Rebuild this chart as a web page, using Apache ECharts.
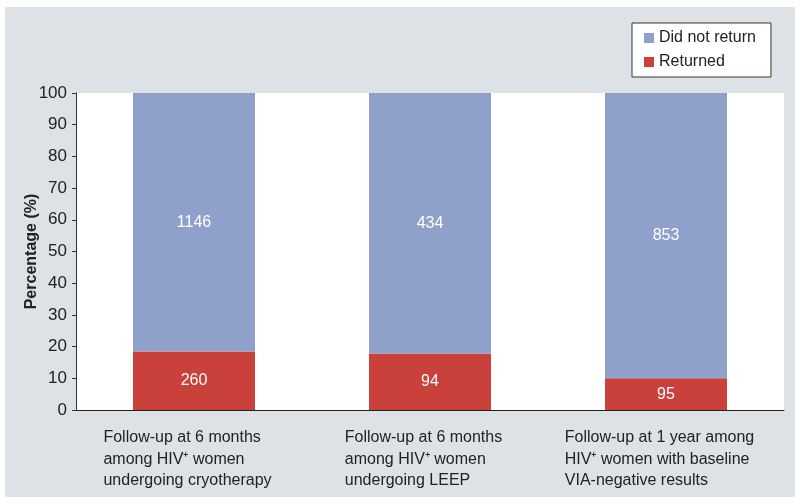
<!DOCTYPE html>
<html>
<head>
<meta charset="utf-8">
<script src="https://cdn.jsdelivr.net/npm/echarts@6/dist/echarts.min.js"></script>
<style>
  html, body { margin: 0; padding: 0; background: #ffffff; }
  #chart { position: absolute; left: 5px; top: 7px; width: 790px; height: 490px; }
</style>
</head>
<body>
<div id="chart"></div>
<script>
// Data
var categories = [
  ['Follow-up at 6 months', 'among HIV\u207A women', 'undergoing cryotherapy'],
  ['Follow-up at 6 months', 'among HIV\u207A women', 'undergoing LEEP'],
  ['Follow-up at 1 year among', 'HIV\u207A women with baseline', 'VIA-negative results']
];
var returnedCounts = [260, 94, 95];
var notReturnedCounts = [1146, 434, 853];
var yTicks = [0, 10, 20, 30, 40, 50, 60, 70, 80, 90, 100];

var catNames = categories.map(function (c) { return c.join('\n'); });
var returnedPct = returnedCounts.map(function (v, i) { return v / (v + notReturnedCounts[i]) * 100; });
var notReturnedPct = notReturnedCounts.map(function (v, i) { return v / (v + returnedCounts[i]) * 100; });

var FONT = "'Liberation Sans', Arial, Helvetica, sans-serif";
var chart = echarts.init(document.getElementById('chart'), null, { renderer: 'canvas' });

chart.setOption({
  backgroundColor: '#dde2e6',
  textStyle: { fontFamily: FONT },
  animation: false,
  legend: {
    data: ['Did not return', 'Returned'],
    orient: 'vertical',
    left: 627,
    top: 16,
    backgroundColor: '#ffffff',
    borderColor: '#333333',
    borderWidth: 1,
    padding: [7, 15, 7, 12],
    itemWidth: 10,
    itemHeight: 10,
    itemGap: 8,
    icon: 'rect',
    textStyle: { fontSize: 16, color: '#222222', fontFamily: FONT }
  },
  grid: {
    left: 71, top: 86, width: 708, height: 317,
    show: true, backgroundColor: '#ffffff', borderWidth: 0
  },
  xAxis: {
    type: 'category',
    data: catNames,
    axisLine: { show: true, lineStyle: { color: '#222222', width: 1 } },
    axisTick: { show: false },
    axisLabel: {
      interval: 0,
      margin: 17,
      align: 'center',
      padding: [0, 13, 0, 0],
      formatter: function (val) {
        return val.split('\n').map(function (s) { return '{l|' + s + '}'; }).join('\n');
      },
      rich: {
        l: { align: 'left', fontSize: 16, lineHeight: 21.5, color: '#222222', fontFamily: FONT }
      }
    }
  },
  yAxis: {
    type: 'value',
    min: 0, max: 100, interval: 10,
    name: 'Percentage (%)',
    nameLocation: 'middle',
    nameGap: 36,
    nameMoveOverlap: false,
    nameTextStyle: { fontSize: 16, fontWeight: 'bold', color: '#222222', fontFamily: FONT },
    axisLine: { show: true, lineStyle: { color: '#333333', width: 1 } },
    axisTick: { show: true, length: 4, lineStyle: { color: '#333333' } },
    axisLabel: {
      margin: 9, fontSize: 17, color: '#222222', fontFamily: FONT,
      customValues: yTicks
    },
    splitLine: { show: false }
  },
  series: [
    {
      name: 'Returned',
      type: 'bar',
      stack: 'total',
      barWidth: 122,
      data: returnedPct,
      itemStyle: { color: '#c9413a' },
      label: {
        show: true, position: 'inside', color: '#ffffff', fontSize: 16, fontFamily: FONT,
        formatter: function (p) { return returnedCounts[p.dataIndex]; }
      }
    },
    {
      name: 'Did not return',
      type: 'bar',
      stack: 'total',
      barWidth: 122,
      data: notReturnedPct,
      itemStyle: { color: '#8fa1cb' },
      label: {
        show: true, position: 'inside', color: '#ffffff', fontSize: 16, fontFamily: FONT,
        formatter: function (p) { return notReturnedCounts[p.dataIndex]; }
      }
    }
  ]
});
</script>
</body>
</html>
